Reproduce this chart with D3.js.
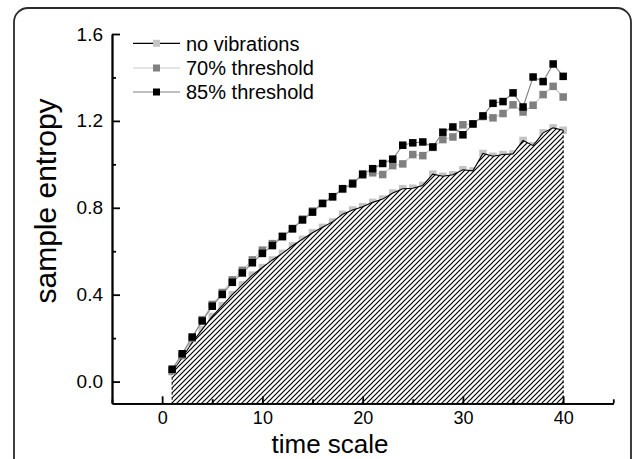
<!DOCTYPE html>
<html>
<head>
<meta charset="utf-8">
<script src="https://cdn.jsdelivr.net/npm/d3@7"></script>
<style>
  html, body { margin: 0; padding: 0; background: #fff; }
  svg { display: block; font-family: "Liberation Sans", Arial, sans-serif; }
</style>
</head>
<body>
<svg id="chart" width="633" height="459"></svg>
<script>
// ---- data ----
const timeScale = [1,2,3,4,5,6,7,8,9,10,11,12,13,14,15,16,17,18,19,20,21,22,23,24,25,26,27,28,29,30,31,32,33,34,35,36,37,38,39,40];
const noVibrations = [0.045,0.11,0.18,0.24,0.30,0.35,0.40,0.445,0.49,0.525,0.56,0.59,0.625,0.655,0.685,0.71,0.735,0.77,0.79,0.805,0.825,0.84,0.868,0.888,0.89,0.903,0.955,0.945,0.952,0.975,0.97,1.05,1.037,1.045,1.048,1.11,1.086,1.145,1.168,1.157];
const threshold70 = [0.05,0.12,0.20,0.285,0.355,0.41,0.468,0.512,0.56,0.605,0.635,0.67,0.705,0.748,0.785,0.82,0.85,0.885,0.915,0.95,0.961,0.953,0.994,1.002,1.045,1.04,1.078,1.114,1.126,1.182,1.186,1.22,1.214,1.234,1.274,1.241,1.272,1.321,1.359,1.31];
const threshold85 = [0.057,0.128,0.205,0.279,0.347,0.401,0.457,0.50,0.547,0.59,0.626,0.667,0.703,0.744,0.78,0.82,0.851,0.888,0.91,0.955,0.98,1.004,1.024,1.088,1.099,1.103,1.08,1.148,1.172,1.136,1.186,1.223,1.281,1.289,1.329,1.264,1.402,1.381,1.462,1.405];
const seriesNames = ["no vibrations", "70% threshold", "85% threshold"];
const xMajorTicks = [0,10,20,30,40];
const xMinorTicks = [-5,5,15,25,35,45];
const yMajorTicks = [0.0,0.4,0.8,1.2,1.6];
const yMinorTicks = [0.2,0.6,1.0,1.4];
const xTitle = "time scale";
const yTitle = "sample entropy";

// ---- styles ----
const styles = [
  { line: "#000000", marker: "#c4c4c4" },
  { line: "#c8c8c8", marker: "#808080" },
  { line: "#808080", marker: "#000000" }
];

const svg = d3.select("#chart");
const x = d3.scaleLinear().domain([-5, 45]).range([112, 613.3]);
const y = d3.scaleLinear().domain([-0.1, 1.6]).range([403.3, 34]);

// frame
svg.append("rect").attr("x", 14).attr("y", 8).attr("width", 617).attr("height", 490)
  .attr("rx", 14).attr("fill", "none").attr("stroke", "#2a2a2a").attr("stroke-width", 1.8);

// hatch pattern
const defs = svg.append("defs");
const s = 5;
const pat = defs.append("pattern").attr("id", "hatch").attr("patternUnits", "userSpaceOnUse")
  .attr("width", s).attr("height", s);
pat.append("rect").attr("width", s).attr("height", s).attr("fill", "#fff");
pat.append("path").attr("d", `M0,${s} L${s},0 M${-s/2},${s/2} L${s/2},${-s/2} M${s/2},${s*1.5} L${s*1.5},${s/2}`)
  .attr("stroke", "#000").attr("stroke-width", 1.2);

const sets = [noVibrations, threshold70, threshold85].map(vals => timeScale.map((t, i) => ({ t, v: vals[i] })));
const ms = 7.5;

function drawMarkers(data, color) {
  svg.append("g").selectAll("rect").data(data).join("rect")
    .attr("x", d => x(d.t) - ms / 2).attr("y", d => y(d.v) - ms / 2)
    .attr("width", ms).attr("height", ms).attr("fill", color);
}
const line = d3.line().x(d => x(d.t)).y(d => y(d.v));

// no vibrations markers (under area)
drawMarkers(sets[0], styles[0].marker);
// hatched area
const area = d3.area().x(d => x(d.t)).y0(y(-0.1)).y1(d => y(d.v));
svg.append("path").datum(sets[0]).attr("d", area).attr("fill", "url(#hatch)");
// dashed edges
[sets[0][0], sets[0][sets[0].length - 1]].forEach(d => {
  svg.append("line").attr("x1", x(d.t)).attr("x2", x(d.t)).attr("y1", y(d.v)).attr("y2", y(-0.1))
    .attr("stroke", "#000").attr("stroke-width", 1).attr("stroke-dasharray", "3,2");
});
svg.append("path").datum(sets[0]).attr("d", line).attr("fill", "none")
  .attr("stroke", styles[0].line).attr("stroke-width", 1.1);

// 70% and 85%
[1, 2].forEach(k => {
  svg.append("path").datum(sets[k]).attr("d", line).attr("fill", "none")
    .attr("stroke", styles[k].line).attr("stroke-width", 1.1);
  drawMarkers(sets[k], styles[k].marker);
});

// axes
const axisStroke = 1.8;
const gx = svg.append("g").attr("transform", `translate(0,${y(-0.1)})`)
  .call(d3.axisBottom(x).tickValues(xMajorTicks).tickSizeInner(-7).tickSizeOuter(0).tickPadding(8).tickFormat(d3.format("d")));
const gxm = svg.append("g").attr("transform", `translate(0,${y(-0.1)})`)
  .call(d3.axisBottom(x).tickValues(xMinorTicks).tickSizeInner(-4).tickSizeOuter(0).tickFormat(""));
const gy = svg.append("g").attr("transform", `translate(${x(-5)},0)`)
  .call(d3.axisLeft(y).tickValues(yMajorTicks).tickSizeInner(-8).tickSizeOuter(0).tickPadding(9).tickFormat(d3.format(".1f")));
const gym = svg.append("g").attr("transform", `translate(${x(-5)},0)`)
  .call(d3.axisLeft(y).tickValues(yMinorTicks).tickSizeInner(-4).tickSizeOuter(0).tickFormat(""));
[gx, gxm, gy, gym].forEach(g => {
  g.selectAll("path.domain").attr("stroke", "#000").attr("stroke-width", axisStroke);
  g.selectAll(".tick line").attr("stroke", "#000").attr("stroke-width", axisStroke);
  g.selectAll(".tick text").attr("fill", "#000").attr("font-size", 19)
    .attr("font-family", "'Liberation Sans', Arial, sans-serif");
});
gx.selectAll(".tick text").attr("font-size", 18);

// axis titles
svg.append("text").attr("x", 330).attr("y", 453).attr("text-anchor", "middle")
  .attr("font-size", 26).attr("fill", "#000").text(xTitle);
svg.append("text").attr("transform", "translate(56,201) rotate(-90)").attr("text-anchor", "middle")
  .attr("font-size", 30).attr("fill", "#000").text(yTitle);

// legend
const legY = [43.3, 68, 92];
seriesNames.forEach((name, k) => {
  const g = svg.append("g");
  g.append("line").attr("x1", 133).attr("x2", 180).attr("y1", legY[k]).attr("y2", legY[k])
    .attr("stroke", styles[k].line).attr("stroke-width", 1.2);
  g.append("rect").attr("x", 156.5 - 3.5).attr("y", legY[k] - 3.5).attr("width", 7).attr("height", 7)
    .attr("fill", styles[k].marker);
  g.append("text").attr("x", 186).attr("y", legY[k]).attr("dy", "0.36em")
    .attr("font-size", 20).attr("fill", "#000").text(name);
});
</script>
</body>
</html>
